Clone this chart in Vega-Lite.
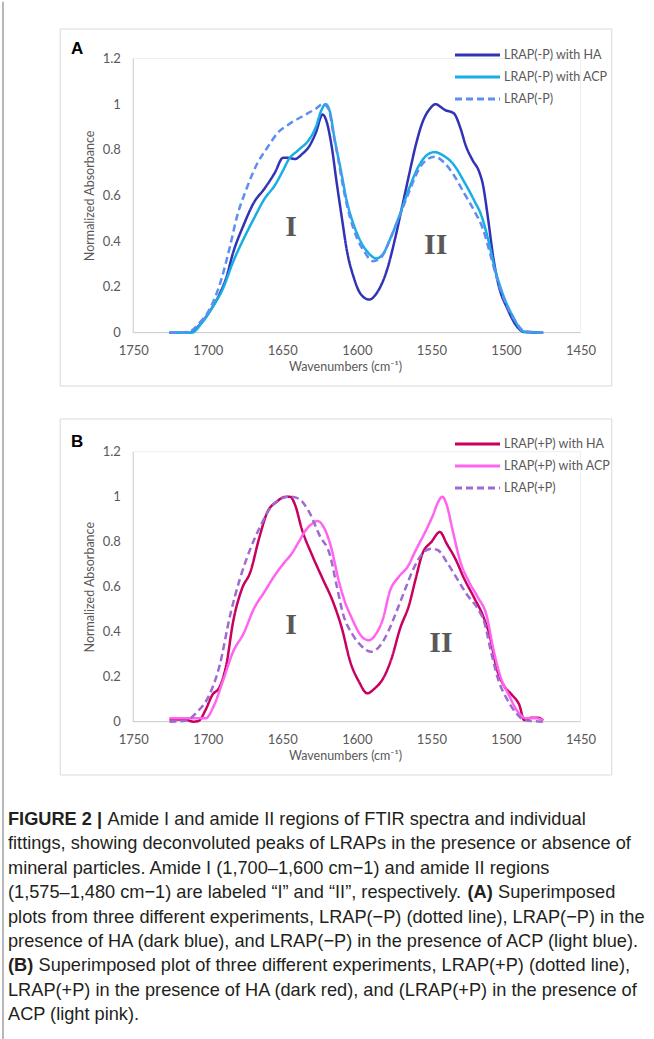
{
  "$schema": "https://vega.github.io/schema/vega-lite/v6.json",
  "padding": {"left": 2, "top": 0, "right": 0, "bottom": 0},
  "autosize": {"type": "pad"},
  "bounds": "flush",
  "spacing": 33,
  "background": "white",
  "config": {
    "view": {"stroke": null},
    "font": "Lato",
    "axis": {"grid": false, "ticks": false, "domain": false, "labelFont": "Lato", "labelFontSize": 13, "labelColor": "#595959", "titleFont": "Lato", "titleFontSize": 12.5, "titleColor": "#595959", "titleFontWeight": "normal"},
    "legend": {"orient": "none", "title": null, "symbolType": "M-2.5,0H2.5", "symbolSize": 324, "symbolStrokeWidth": 3, "labelFont": "Lato", "labelFontSize": 12.5, "labelColor": "#595959", "labelOffset": 16, "rowPadding": 5, "padding": 0}
  },
  "datasets": {
    "A": [
      {"series": "LRAP(-P) with HA", "wn": 1725.7, "abs": 0},
      {"series": "LRAP(-P) with HA", "wn": 1711.9, "abs": 0},
      {"series": "LRAP(-P) with HA", "wn": 1706, "abs": 0.03},
      {"series": "LRAP(-P) with HA", "wn": 1699, "abs": 0.09},
      {"series": "LRAP(-P) with HA", "wn": 1692, "abs": 0.17},
      {"series": "LRAP(-P) with HA", "wn": 1687.6, "abs": 0.24},
      {"series": "LRAP(-P) with HA", "wn": 1683, "abs": 0.35},
      {"series": "LRAP(-P) with HA", "wn": 1676, "abs": 0.47},
      {"series": "LRAP(-P) with HA", "wn": 1669, "abs": 0.57},
      {"series": "LRAP(-P) with HA", "wn": 1662, "abs": 0.63},
      {"series": "LRAP(-P) with HA", "wn": 1655, "abs": 0.7},
      {"series": "LRAP(-P) with HA", "wn": 1649.5, "abs": 0.765},
      {"series": "LRAP(-P) with HA", "wn": 1646, "abs": 0.765},
      {"series": "LRAP(-P) with HA", "wn": 1641.4, "abs": 0.76},
      {"series": "LRAP(-P) with HA", "wn": 1637, "abs": 0.78},
      {"series": "LRAP(-P) with HA", "wn": 1632, "abs": 0.815},
      {"series": "LRAP(-P) with HA", "wn": 1627.5, "abs": 0.875},
      {"series": "LRAP(-P) with HA", "wn": 1623, "abs": 0.955},
      {"series": "LRAP(-P) with HA", "wn": 1620.6, "abs": 0.93},
      {"series": "LRAP(-P) with HA", "wn": 1617, "abs": 0.82},
      {"series": "LRAP(-P) with HA", "wn": 1613.6, "abs": 0.66},
      {"series": "LRAP(-P) with HA", "wn": 1610, "abs": 0.5},
      {"series": "LRAP(-P) with HA", "wn": 1606.7, "abs": 0.36},
      {"series": "LRAP(-P) with HA", "wn": 1602, "abs": 0.24},
      {"series": "LRAP(-P) with HA", "wn": 1597.5, "abs": 0.17},
      {"series": "LRAP(-P) with HA", "wn": 1591.7, "abs": 0.145},
      {"series": "LRAP(-P) with HA", "wn": 1586, "abs": 0.18},
      {"series": "LRAP(-P) with HA", "wn": 1580, "abs": 0.27},
      {"series": "LRAP(-P) with HA", "wn": 1574.4, "abs": 0.41},
      {"series": "LRAP(-P) with HA", "wn": 1570, "abs": 0.54},
      {"series": "LRAP(-P) with HA", "wn": 1565, "abs": 0.69},
      {"series": "LRAP(-P) with HA", "wn": 1560.5, "abs": 0.82},
      {"series": "LRAP(-P) with HA", "wn": 1556, "abs": 0.92},
      {"series": "LRAP(-P) with HA", "wn": 1551, "abs": 0.98},
      {"series": "LRAP(-P) with HA", "wn": 1547, "abs": 1.0},
      {"series": "LRAP(-P) with HA", "wn": 1544.3, "abs": 0.99},
      {"series": "LRAP(-P) with HA", "wn": 1541, "abs": 0.975},
      {"series": "LRAP(-P) with HA", "wn": 1535, "abs": 0.96},
      {"series": "LRAP(-P) with HA", "wn": 1530.5, "abs": 0.895},
      {"series": "LRAP(-P) with HA", "wn": 1527, "abs": 0.82},
      {"series": "LRAP(-P) with HA", "wn": 1522.4, "abs": 0.755},
      {"series": "LRAP(-P) with HA", "wn": 1518, "abs": 0.705},
      {"series": "LRAP(-P) with HA", "wn": 1515.5, "abs": 0.65},
      {"series": "LRAP(-P) with HA", "wn": 1512, "abs": 0.5},
      {"series": "LRAP(-P) with HA", "wn": 1508.5, "abs": 0.33},
      {"series": "LRAP(-P) with HA", "wn": 1505, "abs": 0.21},
      {"series": "LRAP(-P) with HA", "wn": 1499, "abs": 0.105},
      {"series": "LRAP(-P) with HA", "wn": 1493.5, "abs": 0.035},
      {"series": "LRAP(-P) with HA", "wn": 1487.7, "abs": 0.003},
      {"series": "LRAP(-P) with HA", "wn": 1475, "abs": 0},
      {"series": "LRAP(-P) with ACP", "wn": 1725.7, "abs": 0},
      {"series": "LRAP(-P) with ACP", "wn": 1710.7, "abs": 0},
      {"series": "LRAP(-P) with ACP", "wn": 1703.8, "abs": 0.045},
      {"series": "LRAP(-P) with ACP", "wn": 1697, "abs": 0.11},
      {"series": "LRAP(-P) with ACP", "wn": 1690, "abs": 0.19},
      {"series": "LRAP(-P) with ACP", "wn": 1683, "abs": 0.31},
      {"series": "LRAP(-P) with ACP", "wn": 1676, "abs": 0.41},
      {"series": "LRAP(-P) with ACP", "wn": 1669, "abs": 0.5},
      {"series": "LRAP(-P) with ACP", "wn": 1662, "abs": 0.585},
      {"series": "LRAP(-P) with ACP", "wn": 1655, "abs": 0.645},
      {"series": "LRAP(-P) with ACP", "wn": 1649.5, "abs": 0.71},
      {"series": "LRAP(-P) with ACP", "wn": 1646, "abs": 0.755},
      {"series": "LRAP(-P) with ACP", "wn": 1639, "abs": 0.8},
      {"series": "LRAP(-P) with ACP", "wn": 1632, "abs": 0.845},
      {"series": "LRAP(-P) with ACP", "wn": 1627.5, "abs": 0.9},
      {"series": "LRAP(-P) with ACP", "wn": 1624, "abs": 0.97},
      {"series": "LRAP(-P) with ACP", "wn": 1621, "abs": 1.0},
      {"series": "LRAP(-P) with ACP", "wn": 1618, "abs": 0.965},
      {"series": "LRAP(-P) with ACP", "wn": 1615, "abs": 0.85},
      {"series": "LRAP(-P) with ACP", "wn": 1611, "abs": 0.72},
      {"series": "LRAP(-P) with ACP", "wn": 1606.7, "abs": 0.575},
      {"series": "LRAP(-P) with ACP", "wn": 1602, "abs": 0.47},
      {"series": "LRAP(-P) with ACP", "wn": 1597.5, "abs": 0.4},
      {"series": "LRAP(-P) with ACP", "wn": 1591.7, "abs": 0.345},
      {"series": "LRAP(-P) with ACP", "wn": 1587, "abs": 0.325},
      {"series": "LRAP(-P) with ACP", "wn": 1582.4, "abs": 0.345},
      {"series": "LRAP(-P) with ACP", "wn": 1576.7, "abs": 0.425},
      {"series": "LRAP(-P) with ACP", "wn": 1571, "abs": 0.52},
      {"series": "LRAP(-P) with ACP", "wn": 1565, "abs": 0.63},
      {"series": "LRAP(-P) with ACP", "wn": 1558, "abs": 0.735},
      {"series": "LRAP(-P) with ACP", "wn": 1552.4, "abs": 0.78},
      {"series": "LRAP(-P) with ACP", "wn": 1547.8, "abs": 0.79},
      {"series": "LRAP(-P) with ACP", "wn": 1542, "abs": 0.775},
      {"series": "LRAP(-P) with ACP", "wn": 1535, "abs": 0.735},
      {"series": "LRAP(-P) with ACP", "wn": 1528, "abs": 0.66},
      {"series": "LRAP(-P) with ACP", "wn": 1521, "abs": 0.575},
      {"series": "LRAP(-P) with ACP", "wn": 1516.6, "abs": 0.515},
      {"series": "LRAP(-P) with ACP", "wn": 1512, "abs": 0.41},
      {"series": "LRAP(-P) with ACP", "wn": 1507.4, "abs": 0.28},
      {"series": "LRAP(-P) with ACP", "wn": 1502.7, "abs": 0.18},
      {"series": "LRAP(-P) with ACP", "wn": 1495.8, "abs": 0.077},
      {"series": "LRAP(-P) with ACP", "wn": 1487.7, "abs": 0.004},
      {"series": "LRAP(-P) with ACP", "wn": 1475, "abs": 0},
      {"series": "LRAP(-P)", "wn": 1725.7, "abs": 0},
      {"series": "LRAP(-P)", "wn": 1713, "abs": 0.003},
      {"series": "LRAP(-P)", "wn": 1706, "abs": 0.04},
      {"series": "LRAP(-P)", "wn": 1699, "abs": 0.1},
      {"series": "LRAP(-P)", "wn": 1692, "abs": 0.21},
      {"series": "LRAP(-P)", "wn": 1685, "abs": 0.38},
      {"series": "LRAP(-P)", "wn": 1680.7, "abs": 0.5},
      {"series": "LRAP(-P)", "wn": 1673.7, "abs": 0.635},
      {"series": "LRAP(-P)", "wn": 1666.8, "abs": 0.74},
      {"series": "LRAP(-P)", "wn": 1660, "abs": 0.81},
      {"series": "LRAP(-P)", "wn": 1653, "abs": 0.875},
      {"series": "LRAP(-P)", "wn": 1646, "abs": 0.91},
      {"series": "LRAP(-P)", "wn": 1637, "abs": 0.945},
      {"series": "LRAP(-P)", "wn": 1627.5, "abs": 0.98},
      {"series": "LRAP(-P)", "wn": 1623, "abs": 1.0},
      {"series": "LRAP(-P)", "wn": 1619, "abs": 0.98},
      {"series": "LRAP(-P)", "wn": 1616, "abs": 0.88},
      {"series": "LRAP(-P)", "wn": 1612.5, "abs": 0.76},
      {"series": "LRAP(-P)", "wn": 1609, "abs": 0.63},
      {"series": "LRAP(-P)", "wn": 1604.4, "abs": 0.5},
      {"series": "LRAP(-P)", "wn": 1600, "abs": 0.415},
      {"series": "LRAP(-P)", "wn": 1595, "abs": 0.355},
      {"series": "LRAP(-P)", "wn": 1589.4, "abs": 0.313},
      {"series": "LRAP(-P)", "wn": 1583.6, "abs": 0.33},
      {"series": "LRAP(-P)", "wn": 1578, "abs": 0.405},
      {"series": "LRAP(-P)", "wn": 1572, "abs": 0.5},
      {"series": "LRAP(-P)", "wn": 1565, "abs": 0.615},
      {"series": "LRAP(-P)", "wn": 1558, "abs": 0.72},
      {"series": "LRAP(-P)", "wn": 1552.4, "abs": 0.76},
      {"series": "LRAP(-P)", "wn": 1547.8, "abs": 0.77},
      {"series": "LRAP(-P)", "wn": 1542, "abs": 0.748},
      {"series": "LRAP(-P)", "wn": 1535, "abs": 0.69},
      {"series": "LRAP(-P)", "wn": 1528, "abs": 0.61},
      {"series": "LRAP(-P)", "wn": 1521, "abs": 0.53},
      {"series": "LRAP(-P)", "wn": 1515.5, "abs": 0.455},
      {"series": "LRAP(-P)", "wn": 1511, "abs": 0.355},
      {"series": "LRAP(-P)", "wn": 1506.2, "abs": 0.24},
      {"series": "LRAP(-P)", "wn": 1500.5, "abs": 0.135},
      {"series": "LRAP(-P)", "wn": 1493.5, "abs": 0.048},
      {"series": "LRAP(-P)", "wn": 1487.7, "abs": 0.007},
      {"series": "LRAP(-P)", "wn": 1475, "abs": 0}
    ],
    "B": [
      {"series": "LRAP(+P) with HA", "wn": 1725.7, "abs": 0.01},
      {"series": "LRAP(+P) with HA", "wn": 1715.3, "abs": 0.01},
      {"series": "LRAP(+P) with HA", "wn": 1709.6, "abs": 0.0},
      {"series": "LRAP(+P) with HA", "wn": 1706, "abs": 0.004},
      {"series": "LRAP(+P) with HA", "wn": 1701.5, "abs": 0.052},
      {"series": "LRAP(+P) with HA", "wn": 1697, "abs": 0.118},
      {"series": "LRAP(+P) with HA", "wn": 1692, "abs": 0.155},
      {"series": "LRAP(+P) with HA", "wn": 1687.6, "abs": 0.251},
      {"series": "LRAP(+P) with HA", "wn": 1683, "abs": 0.444},
      {"series": "LRAP(+P) with HA", "wn": 1677, "abs": 0.592},
      {"series": "LRAP(+P) with HA", "wn": 1671.4, "abs": 0.666},
      {"series": "LRAP(+P) with HA", "wn": 1665.6, "abs": 0.814},
      {"series": "LRAP(+P) with HA", "wn": 1660, "abs": 0.932},
      {"series": "LRAP(+P) with HA", "wn": 1654, "abs": 0.976},
      {"series": "LRAP(+P) with HA", "wn": 1648.3, "abs": 0.999},
      {"series": "LRAP(+P) with HA", "wn": 1644.8, "abs": 1.0},
      {"series": "LRAP(+P) with HA", "wn": 1641.4, "abs": 0.963},
      {"series": "LRAP(+P) with HA", "wn": 1637, "abs": 0.858},
      {"series": "LRAP(+P) with HA", "wn": 1630, "abs": 0.74},
      {"series": "LRAP(+P) with HA", "wn": 1623, "abs": 0.636},
      {"series": "LRAP(+P) with HA", "wn": 1616, "abs": 0.533},
      {"series": "LRAP(+P) with HA", "wn": 1610, "abs": 0.414},
      {"series": "LRAP(+P) with HA", "wn": 1604.4, "abs": 0.266},
      {"series": "LRAP(+P) with HA", "wn": 1598.6, "abs": 0.178},
      {"series": "LRAP(+P) with HA", "wn": 1593, "abs": 0.126},
      {"series": "LRAP(+P) with HA", "wn": 1588, "abs": 0.148},
      {"series": "LRAP(+P) with HA", "wn": 1582.4, "abs": 0.192},
      {"series": "LRAP(+P) with HA", "wn": 1576.7, "abs": 0.281},
      {"series": "LRAP(+P) with HA", "wn": 1571, "abs": 0.414},
      {"series": "LRAP(+P) with HA", "wn": 1565, "abs": 0.518},
      {"series": "LRAP(+P) with HA", "wn": 1560.5, "abs": 0.636},
      {"series": "LRAP(+P) with HA", "wn": 1556, "abs": 0.747},
      {"series": "LRAP(+P) with HA", "wn": 1550, "abs": 0.799},
      {"series": "LRAP(+P) with HA", "wn": 1544.3, "abs": 0.843},
      {"series": "LRAP(+P) with HA", "wn": 1539.7, "abs": 0.791},
      {"series": "LRAP(+P) with HA", "wn": 1534, "abs": 0.725},
      {"series": "LRAP(+P) with HA", "wn": 1528, "abs": 0.636},
      {"series": "LRAP(+P) with HA", "wn": 1521, "abs": 0.547},
      {"series": "LRAP(+P) with HA", "wn": 1515.5, "abs": 0.473},
      {"series": "LRAP(+P) with HA", "wn": 1511, "abs": 0.385},
      {"series": "LRAP(+P) with HA", "wn": 1506.2, "abs": 0.237},
      {"series": "LRAP(+P) with HA", "wn": 1501.6, "abs": 0.163},
      {"series": "LRAP(+P) with HA", "wn": 1495.8, "abs": 0.118},
      {"series": "LRAP(+P) with HA", "wn": 1491, "abs": 0.074},
      {"series": "LRAP(+P) with HA", "wn": 1487.7, "abs": 0.007},
      {"series": "LRAP(+P) with HA", "wn": 1483, "abs": 0.018},
      {"series": "LRAP(+P) with HA", "wn": 1478.5, "abs": 0.018},
      {"series": "LRAP(+P) with HA", "wn": 1475, "abs": 0.005},
      {"series": "LRAP(+P) with ACP", "wn": 1725.7, "abs": 0.015},
      {"series": "LRAP(+P) with ACP", "wn": 1701.5, "abs": 0.015},
      {"series": "LRAP(+P) with ACP", "wn": 1695.7, "abs": 0.074},
      {"series": "LRAP(+P) with ACP", "wn": 1690, "abs": 0.178},
      {"series": "LRAP(+P) with ACP", "wn": 1683, "abs": 0.311},
      {"series": "LRAP(+P) with ACP", "wn": 1676, "abs": 0.392},
      {"series": "LRAP(+P) with ACP", "wn": 1669, "abs": 0.503},
      {"series": "LRAP(+P) with ACP", "wn": 1662, "abs": 0.577},
      {"series": "LRAP(+P) with ACP", "wn": 1655, "abs": 0.651},
      {"series": "LRAP(+P) with ACP", "wn": 1648.3, "abs": 0.71},
      {"series": "LRAP(+P) with ACP", "wn": 1643.7, "abs": 0.747},
      {"series": "LRAP(+P) with ACP", "wn": 1639, "abs": 0.799},
      {"series": "LRAP(+P) with ACP", "wn": 1634.4, "abs": 0.85},
      {"series": "LRAP(+P) with ACP", "wn": 1630, "abs": 0.88},
      {"series": "LRAP(+P) with ACP", "wn": 1626.4, "abs": 0.892},
      {"series": "LRAP(+P) with ACP", "wn": 1621.7, "abs": 0.858},
      {"series": "LRAP(+P) with ACP", "wn": 1617, "abs": 0.769},
      {"series": "LRAP(+P) with ACP", "wn": 1612.5, "abs": 0.636},
      {"series": "LRAP(+P) with ACP", "wn": 1608, "abs": 0.533},
      {"series": "LRAP(+P) with ACP", "wn": 1603.3, "abs": 0.459},
      {"series": "LRAP(+P) with ACP", "wn": 1597.5, "abs": 0.385},
      {"series": "LRAP(+P) with ACP", "wn": 1592, "abs": 0.362},
      {"series": "LRAP(+P) with ACP", "wn": 1587, "abs": 0.392},
      {"series": "LRAP(+P) with ACP", "wn": 1582.4, "abs": 0.459},
      {"series": "LRAP(+P) with ACP", "wn": 1578, "abs": 0.577},
      {"series": "LRAP(+P) with ACP", "wn": 1572, "abs": 0.643},
      {"series": "LRAP(+P) with ACP", "wn": 1566, "abs": 0.688},
      {"series": "LRAP(+P) with ACP", "wn": 1560.5, "abs": 0.762},
      {"series": "LRAP(+P) with ACP", "wn": 1554.7, "abs": 0.836},
      {"series": "LRAP(+P) with ACP", "wn": 1549, "abs": 0.917},
      {"series": "LRAP(+P) with ACP", "wn": 1545.5, "abs": 0.976},
      {"series": "LRAP(+P) with ACP", "wn": 1542.7, "abs": 1.0},
      {"series": "LRAP(+P) with ACP", "wn": 1539.7, "abs": 0.963},
      {"series": "LRAP(+P) with ACP", "wn": 1536, "abs": 0.858},
      {"series": "LRAP(+P) with ACP", "wn": 1530.5, "abs": 0.71},
      {"series": "LRAP(+P) with ACP", "wn": 1524.7, "abs": 0.621},
      {"series": "LRAP(+P) with ACP", "wn": 1519, "abs": 0.555},
      {"series": "LRAP(+P) with ACP", "wn": 1513, "abs": 0.473},
      {"series": "LRAP(+P) with ACP", "wn": 1508.5, "abs": 0.325},
      {"series": "LRAP(+P) with ACP", "wn": 1504, "abs": 0.207},
      {"series": "LRAP(+P) with ACP", "wn": 1498, "abs": 0.118},
      {"series": "LRAP(+P) with ACP", "wn": 1492, "abs": 0.044},
      {"series": "LRAP(+P) with ACP", "wn": 1486.4, "abs": 0.015},
      {"series": "LRAP(+P) with ACP", "wn": 1479.5, "abs": 0.015},
      {"series": "LRAP(+P) with ACP", "wn": 1475, "abs": 0.005},
      {"series": "LRAP(+P)", "wn": 1725.7, "abs": 0},
      {"series": "LRAP(+P)", "wn": 1715, "abs": 0.004},
      {"series": "LRAP(+P)", "wn": 1707, "abs": 0.044},
      {"series": "LRAP(+P)", "wn": 1699, "abs": 0.118},
      {"series": "LRAP(+P)", "wn": 1692, "abs": 0.251},
      {"series": "LRAP(+P)", "wn": 1685, "abs": 0.473},
      {"series": "LRAP(+P)", "wn": 1678.4, "abs": 0.636},
      {"series": "LRAP(+P)", "wn": 1671.4, "abs": 0.769},
      {"series": "LRAP(+P)", "wn": 1664.4, "abs": 0.873},
      {"series": "LRAP(+P)", "wn": 1657.6, "abs": 0.954},
      {"series": "LRAP(+P)", "wn": 1650.6, "abs": 0.991},
      {"series": "LRAP(+P)", "wn": 1644.8, "abs": 1.0},
      {"series": "LRAP(+P)", "wn": 1639, "abs": 0.991},
      {"series": "LRAP(+P)", "wn": 1632, "abs": 0.932},
      {"series": "LRAP(+P)", "wn": 1625, "abs": 0.828},
      {"series": "LRAP(+P)", "wn": 1618, "abs": 0.74},
      {"series": "LRAP(+P)", "wn": 1613.6, "abs": 0.607},
      {"series": "LRAP(+P)", "wn": 1609, "abs": 0.473},
      {"series": "LRAP(+P)", "wn": 1603.3, "abs": 0.392},
      {"series": "LRAP(+P)", "wn": 1597.5, "abs": 0.34},
      {"series": "LRAP(+P)", "wn": 1590.5, "abs": 0.311},
      {"series": "LRAP(+P)", "wn": 1585, "abs": 0.333},
      {"series": "LRAP(+P)", "wn": 1579, "abs": 0.4},
      {"series": "LRAP(+P)", "wn": 1573.5, "abs": 0.488},
      {"series": "LRAP(+P)", "wn": 1567.4, "abs": 0.592},
      {"series": "LRAP(+P)", "wn": 1562, "abs": 0.68},
      {"series": "LRAP(+P)", "wn": 1556, "abs": 0.747},
      {"series": "LRAP(+P)", "wn": 1550, "abs": 0.769},
      {"series": "LRAP(+P)", "wn": 1545.5, "abs": 0.762},
      {"series": "LRAP(+P)", "wn": 1539.7, "abs": 0.71},
      {"series": "LRAP(+P)", "wn": 1532.8, "abs": 0.636},
      {"series": "LRAP(+P)", "wn": 1525.8, "abs": 0.562},
      {"series": "LRAP(+P)", "wn": 1519, "abs": 0.503},
      {"series": "LRAP(+P)", "wn": 1514.6, "abs": 0.444},
      {"series": "LRAP(+P)", "wn": 1510, "abs": 0.311},
      {"series": "LRAP(+P)", "wn": 1505.4, "abs": 0.192},
      {"series": "LRAP(+P)", "wn": 1499.6, "abs": 0.104},
      {"series": "LRAP(+P)", "wn": 1493.8, "abs": 0.044},
      {"series": "LRAP(+P)", "wn": 1487.7, "abs": 0.007},
      {"series": "LRAP(+P)", "wn": 1475, "abs": 0}
    ],
    "caption": [
      {"line": 1, "part": "lead", "text": "FIGURE 2 |"},
      {"line": 1, "part": "rest1", "text": "Amide I and amide II regions of FTIR spectra and individual"},
      {"line": 2, "part": "plain", "text": "fittings, showing deconvoluted peaks of LRAPs in the presence or absence of"},
      {"line": 3, "part": "plain", "text": "mineral particles. Amide I (1,700–1,600 cm−1) and amide II regions"},
      {"line": 4, "part": "plain", "text": "(1,575–1,480 cm−1) are labeled “I” and “II”, respectively."},
      {"line": 4, "part": "boldA", "text": "(A)"},
      {"line": 4, "part": "restA", "text": "Superimposed"},
      {"line": 5, "part": "plain", "text": "plots from three different experiments, LRAP(−P) (dotted line), LRAP(−P) in the"},
      {"line": 6, "part": "plain", "text": "presence of HA (dark blue), and LRAP(−P) in the presence of ACP (light blue)."},
      {"line": 7, "part": "lead", "text": "(B)"},
      {"line": 7, "part": "restB", "text": "Superimposed plot of three different experiments, LRAP(+P) (dotted line),"},
      {"line": 8, "part": "plain", "text": "LRAP(+P) in the presence of HA (dark red), and (LRAP(+P) in the presence of"},
      {"line": 9, "part": "plain", "text": "ACP (light pink)."}
    ]
  },
  "vconcat": [
    {
      "width": 647,
      "height": 357,
      "layer": [
        {
          "data": {"values": [{}]},
          "mark": {"type": "rule", "stroke": "#a0a0a0", "strokeWidth": 1.5},
          "encoding": {"x": {"datum": 1837.35, "type": "quantitative"}, "y": {"datum": 1.4484, "type": "quantitative"}, "y2": {"datum": -0.3792}}
        },
        {
          "data": {"values": [{}]},
          "mark": {"type": "rect", "filled": false, "stroke": "#d9d9d9", "strokeWidth": 1},
          "encoding": {
            "x": {"datum": 1799, "type": "quantitative"},
            "x2": {"datum": 1429},
            "y": {"datum": -0.2334, "type": "quantitative"},
            "y2": {"datum": 1.3288}
          }
        },
        {
          "data": {"values": [{}]},
          "mark": {"type": "rule", "stroke": "#eeeeee", "strokeWidth": 1},
          "encoding": {"x": {"datum": 1750, "type": "quantitative"}, "x2": {"datum": 1450}, "y": {"datum": 1.2, "type": "quantitative"}}
        },
        {
          "data": {"values": [{}]},
          "mark": {"type": "rule", "stroke": "#eeeeee", "strokeWidth": 1},
          "encoding": {"x": {"datum": 1450, "type": "quantitative"}, "y": {"datum": 0, "type": "quantitative"}, "y2": {"datum": 1.2}}
        },
        {
          "data": {"values": [{}]},
          "mark": {"type": "rule", "stroke": "#c8c8c8", "strokeWidth": 1},
          "encoding": {"x": {"datum": 1750, "type": "quantitative"}, "x2": {"datum": 1450}, "y": {"datum": 0, "type": "quantitative"}}
        },
        {
          "data": {"values": [{}]},
          "mark": {"type": "rule", "stroke": "#c8c8c8", "strokeWidth": 1},
          "encoding": {"x": {"datum": 1750, "type": "quantitative"}, "y": {"datum": 0, "type": "quantitative"}, "y2": {"datum": 1.2}}
        },
        {
          "data": {"name": "A"},
          "mark": {"type": "line", "interpolate": "monotone", "strokeWidth": 2.5},
          "encoding": {
            "x": {"field": "wn", "type": "quantitative", "scale": {"domain": [1400, 1834], "reverse": true, "nice": false, "zero": false},
                  "axis": {"orient": "bottom", "offset": -53.3, "values": [1750, 1700, 1650, 1600, 1550, 1500, 1450], "format": "d", "labelPadding": 12, "title": "Wavenumbers (cm⁻¹)", "titleX": 337, "titlePadding": 3}},
            "y": {"field": "abs", "type": "quantitative", "scale": {"domain": [-0.2334, 1.3288], "nice": false, "zero": false},
                  "axis": {"orient": "left", "offset": -125.3, "values": [0, 0.2, 0.4, 0.6, 0.8, 1, 1.2], "format": "~g", "labelPadding": 13, "title": "Normalized Absorbance", "titleY": 166.4, "titlePadding": 6}},
            "color": {"field": "series", "type": "nominal", "scale": {"domain": ["LRAP(-P) with HA", "LRAP(-P) with ACP", "LRAP(-P)"], "range": ["#3232b4", "#17aee6", "#5e8ff0"]}, "legend": {"legendX": 459, "legendY": 15.5}},
            "strokeDash": {"field": "series", "type": "nominal", "scale": {"domain": ["LRAP(-P) with HA", "LRAP(-P) with ACP", "LRAP(-P)"], "range": [[1, 0], [1, 0], [7, 4]]}, "legend": {"legendX": 459, "legendY": 15.5}}
          }
        },
        {
          "data": {"values": [{}]},
          "mark": {"type": "text", "font": "Liberation Serif", "fontWeight": "bold", "fontSize": 30, "color": "#595959", "align": "center", "baseline": "middle"},
          "encoding": {"x": {"datum": 1644.1, "type": "quantitative"}, "y": {"datum": 0.4636, "type": "quantitative"}, "text": {"value": "I"}}
        },
        {
          "data": {"values": [{}]},
          "mark": {"type": "text", "font": "Liberation Serif", "fontWeight": "bold", "fontSize": 30, "color": "#595959", "align": "center", "baseline": "middle"},
          "encoding": {"x": {"datum": 1547.1, "type": "quantitative"}, "y": {"datum": 0.3834, "type": "quantitative"}, "text": {"value": "II"}}
        },
        {
          "data": {"values": [{}]},
          "mark": {"type": "text", "font": "Liberation Sans", "fontWeight": "bold", "fontSize": 17, "color": "#000000", "align": "left", "baseline": "alphabetic"},
          "encoding": {"x": {"datum": 1791.7, "type": "quantitative"}, "y": {"datum": 1.2176, "type": "quantitative"}, "text": {"value": "A"}}
        }
      ]
    },
    {
      "width": 647,
      "height": 356,
      "layer": [
        {
          "data": {"values": [{}]},
          "mark": {"type": "rule", "stroke": "#a0a0a0", "strokeWidth": 1.5},
          "encoding": {"x": {"datum": 1837.35, "type": "quantitative"}, "y": {"datum": 1.3453, "type": "quantitative"}, "y2": {"datum": -0.3836}}
        },
        {
          "data": {"values": [{}]},
          "mark": {"type": "rect", "filled": false, "stroke": "#d9d9d9", "strokeWidth": 1},
          "encoding": {
            "x": {"datum": 1799, "type": "quantitative"},
            "x2": {"datum": 1429},
            "y": {"datum": -0.2369, "type": "quantitative"},
            "y2": {"datum": 1.3453}
          }
        },
        {
          "data": {"values": [{}]},
          "mark": {"type": "rule", "stroke": "#eeeeee", "strokeWidth": 1},
          "encoding": {"x": {"datum": 1750, "type": "quantitative"}, "x2": {"datum": 1450}, "y": {"datum": 1.2, "type": "quantitative"}}
        },
        {
          "data": {"values": [{}]},
          "mark": {"type": "rule", "stroke": "#eeeeee", "strokeWidth": 1},
          "encoding": {"x": {"datum": 1450, "type": "quantitative"}, "y": {"datum": 0, "type": "quantitative"}, "y2": {"datum": 1.2}}
        },
        {
          "data": {"values": [{}]},
          "mark": {"type": "rule", "stroke": "#c8c8c8", "strokeWidth": 1},
          "encoding": {"x": {"datum": 1750, "type": "quantitative"}, "x2": {"datum": 1450}, "y": {"datum": 0, "type": "quantitative"}}
        },
        {
          "data": {"values": [{}]},
          "mark": {"type": "rule", "stroke": "#c8c8c8", "strokeWidth": 1},
          "encoding": {"x": {"datum": 1750, "type": "quantitative"}, "y": {"datum": 0, "type": "quantitative"}, "y2": {"datum": 1.2}}
        },
        {
          "data": {"name": "B"},
          "mark": {"type": "line", "interpolate": "monotone", "strokeWidth": 2.5},
          "encoding": {
            "x": {"field": "wn", "type": "quantitative", "scale": {"domain": [1400, 1834], "reverse": true, "nice": false, "zero": false},
                  "axis": {"orient": "bottom", "offset": -53.3, "values": [1750, 1700, 1650, 1600, 1550, 1500, 1450], "format": "d", "labelPadding": 12, "title": "Wavenumbers (cm⁻¹)", "titleX": 337, "titlePadding": 3}},
            "y": {"field": "abs", "type": "quantitative", "scale": {"domain": [-0.2369, 1.3453], "nice": false, "zero": false},
                  "axis": {"orient": "left", "offset": -125.3, "values": [0, 0.2, 0.4, 0.6, 0.8, 1, 1.2], "format": "~g", "labelPadding": 13, "title": "Normalized Absorbance", "titleY": 167.7, "titlePadding": 6}},
            "color": {"field": "series", "type": "nominal", "scale": {"domain": ["LRAP(+P) with HA", "LRAP(+P) with ACP", "LRAP(+P)"], "range": ["#c8005f", "#ff63f0", "#9e6bd1"]}, "legend": {"legendX": 459, "legendY": 14.5}},
            "strokeDash": {"field": "series", "type": "nominal", "scale": {"domain": ["LRAP(+P) with HA", "LRAP(+P) with ACP", "LRAP(+P)"], "range": [[1, 0], [1, 0], [7, 4]]}, "legend": {"legendX": 459, "legendY": 14.5}}
          }
        },
        {
          "data": {"values": [{}]},
          "mark": {"type": "text", "font": "Liberation Serif", "fontWeight": "bold", "fontSize": 30, "color": "#595959", "align": "center", "baseline": "middle"},
          "encoding": {"x": {"datum": 1644.1, "type": "quantitative"}, "y": {"datum": 0.429, "type": "quantitative"}, "text": {"value": "I"}}
        },
        {
          "data": {"values": [{}]},
          "mark": {"type": "text", "font": "Liberation Serif", "fontWeight": "bold", "fontSize": 30, "color": "#595959", "align": "center", "baseline": "middle"},
          "encoding": {"x": {"datum": 1543.6, "type": "quantitative"}, "y": {"datum": 0.3476, "type": "quantitative"}, "text": {"value": "II"}}
        },
        {
          "data": {"values": [{}]},
          "mark": {"type": "text", "font": "Liberation Sans", "fontWeight": "bold", "fontSize": 17, "color": "#000000", "align": "left", "baseline": "alphabetic"},
          "encoding": {"x": {"datum": 1791.7, "type": "quantitative"}, "y": {"datum": 1.2222, "type": "quantitative"}, "text": {"value": "B"}}
        }
      ]
    },
    {
      "width": 647,
      "height": 233,
      "layer": [
        {
          "data": {"values": [{}]},
          "mark": {"type": "rule", "stroke": "#a0a0a0", "strokeWidth": 1.5},
          "encoding": {
            "x": {"datum": -0.00773, "type": "quantitative", "scale": {"domain": [0, 1]}, "axis": null},
            "y": {"datum": 0.5082, "type": "quantitative", "scale": {"domain": [0.5082, 10.057], "reverse": true, "nice": false, "zero": false}, "axis": null},
            "y2": {"datum": 10.057}
          }
        },
        {
          "data": {"name": "caption"},
          "encoding": {
            "x": {"datum": 0, "type": "quantitative", "scale": {"domain": [0, 1]}, "axis": null},
            "y": {"field": "line", "type": "quantitative", "scale": {"domain": [0.5082, 10.057], "reverse": true, "nice": false, "zero": false}, "axis": null},
            "text": {"field": "text"}
          },
          "layer": [
            {"transform": [{"filter": "datum.part == 'plain'"}], "mark": {"type": "text", "align": "left", "baseline": "middle", "font": "Liberation Sans", "fontSize": 18.2, "color": "#231f20"}},
            {"transform": [{"filter": "datum.part == 'lead'"}], "mark": {"type": "text", "align": "left", "baseline": "middle", "font": "Liberation Sans", "fontWeight": "bold", "fontSize": 18.2, "color": "#231f20"}},
            {"transform": [{"filter": "datum.part == 'rest1'"}], "mark": {"type": "text", "align": "left", "baseline": "middle", "dx": 99.5, "font": "Liberation Sans", "fontSize": 18.2, "color": "#231f20"}},
            {"transform": [{"filter": "datum.part == 'boldA'"}], "mark": {"type": "text", "align": "left", "baseline": "middle", "dx": 459.5, "font": "Liberation Sans", "fontWeight": "bold", "fontSize": 18.2, "color": "#231f20"}},
            {"transform": [{"filter": "datum.part == 'restA'"}], "mark": {"type": "text", "align": "left", "baseline": "middle", "dx": 490, "font": "Liberation Sans", "fontSize": 18.2, "color": "#231f20"}},
            {"transform": [{"filter": "datum.part == 'restB'"}], "mark": {"type": "text", "align": "left", "baseline": "middle", "dx": 30.5, "font": "Liberation Sans", "fontSize": 18.2, "color": "#231f20"}}
          ]
        }
      ]
    }
  ],
  "resolve": {
    "scale": {"color": "independent", "strokeDash": "independent", "x": "independent", "y": "independent"},
    "legend": {"color": "independent", "strokeDash": "independent"}
  }
}
